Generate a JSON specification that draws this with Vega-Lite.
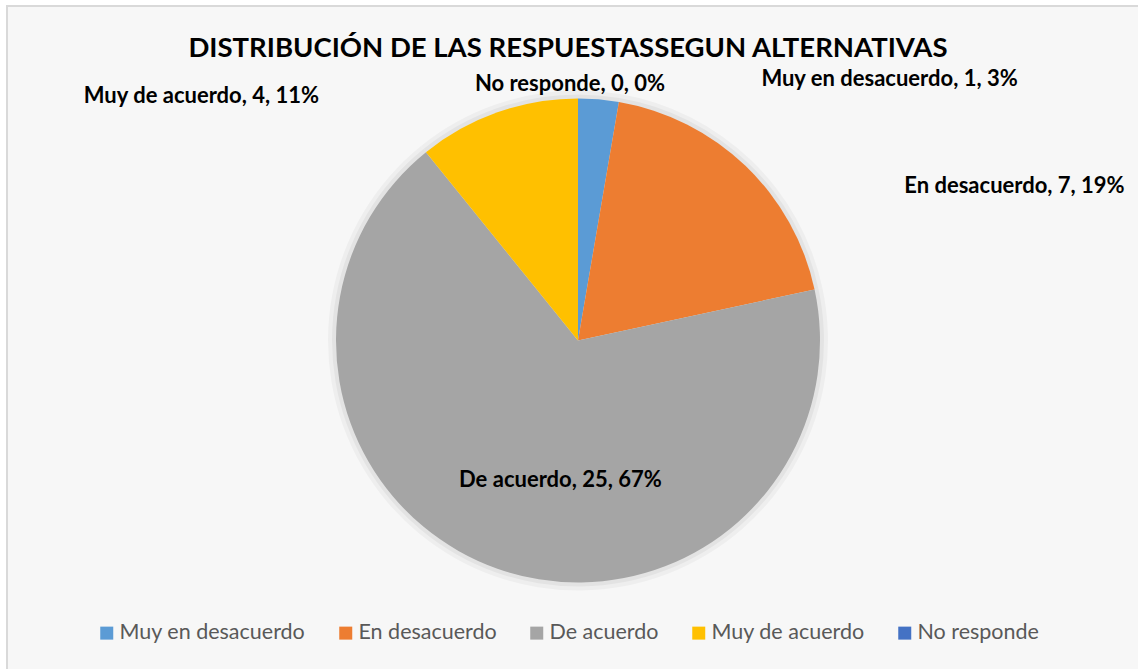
{
  "$schema": "https://vega.github.io/schema/vega-lite/v6.json",
  "width": 1138,
  "height": 669,
  "autosize": {"type": "fit", "contains": "padding"},
  "padding": {"left": 7, "top": 6, "right": -11, "bottom": -6},
  "background": "#ffffff",
  "view": {"fill": "#f7f7f7", "stroke": "#d9d9d9", "strokeWidth": 2},
  "title": {
    "text": "DISTRIBUCIÓN DE LAS RESPUESTASSEGUN ALTERNATIVAS",
    "font": "Lato",
    "fontSize": 27.5,
    "fontWeight": "bold",
    "color": "#000000",
    "anchor": "middle",
    "orient": "top",
    "offset": -56,
    "dx": -10
  },
  "data": {
    "values": [
      {"cat": "Muy en desacuerdo", "n": 1, "orden": 1, "etiqueta": "Muy en desacuerdo, 1, 3%"},
      {"cat": "En desacuerdo", "n": 7, "orden": 2, "etiqueta": "En desacuerdo, 7, 19%"},
      {"cat": "De acuerdo", "n": 25, "orden": 3, "etiqueta": "De acuerdo, 25, 67%"},
      {"cat": "Muy de acuerdo", "n": 4, "orden": 4, "etiqueta": "Muy de acuerdo, 4, 11%"},
      {"cat": "No responde", "n": 0, "orden": 5, "etiqueta": "No responde, 0, 0%"}
    ]
  },
  "encoding": {
    "theta": {"field": "n", "type": "quantitative", "stack": true},
    "order": {"field": "orden", "type": "quantitative"}
  },
  "layer": [
    {
      "mark": {"type": "arc", "outerRadius": 250, "fill": "#000000", "fillOpacity": 0.035}
    },
    {
      "mark": {"type": "arc", "outerRadius": 246, "fill": "#000000", "fillOpacity": 0.045}
    },
    {
      "mark": {"type": "arc", "outerRadius": 242},
      "encoding": {
        "color": {
          "field": "cat",
          "type": "nominal",
          "scale": {
            "domain": ["Muy en desacuerdo", "En desacuerdo", "De acuerdo", "Muy de acuerdo", "No responde"],
            "range": ["#5B9BD5", "#ED7D31", "#A5A5A5", "#FFC000", "#4472C4"]
          },
          "legend": {
            "title": null,
            "orient": "none",
            "legendX": 89,
            "legendY": 616,
            "direction": "horizontal",
            "symbolType": "square",
            "symbolSize": 169,
            "symbolStrokeWidth": 0,
            "labelFont": "Lato",
            "labelFontSize": 21.5,
            "labelColor": "#595959",
            "labelOffset": 2,
            "columnPadding": 29,
            "labelLimit": 400
          }
        }
      }
    },
    {
      "mark": {
        "type": "text",
        "radius": 242,
        "font": "Lato",
        "fontSize": 22,
        "fontWeight": "bold",
        "color": "#000000",
        "align": "center",
        "baseline": "middle",
        "dx": {"expr": "datum.cat == 'Muy en desacuerdo' ? 291 : datum.cat == 'En desacuerdo' ? 269 : datum.cat == 'De acuerdo' ? 63 : datum.cat == 'Muy de acuerdo' ? -296 : -8"},
        "dy": {"expr": "datum.cat == 'Muy en desacuerdo' ? -20 : datum.cat == 'En desacuerdo' ? 20 : datum.cat == 'De acuerdo' ? -89 : datum.cat == 'Muy de acuerdo' ? -16 : -15"}
      },
      "encoding": {
        "text": {"field": "etiqueta", "type": "nominal"}
      }
    }
  ]
}
